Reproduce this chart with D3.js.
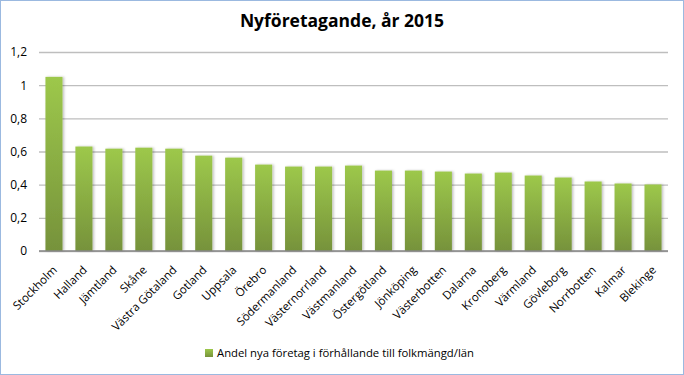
<!DOCTYPE html>
<html>
<head>
<meta charset="utf-8">
<script src="https://cdn.jsdelivr.net/npm/d3@7"></script>
<style>
  body { margin: 0; background: #fff; }
  text { font-family: "Open Sans", "Noto Sans", sans-serif; }
</style>
</head>
<body>
<div id="chart"></div>
<script>
(() => {

    var regions = ["Stockholm", "Halland", "Jämtland", "Skåne", "Västra Götaland", "Gotland", "Uppsala",
        "Örebro", "Södermanland", "Västernorrland", "Västmanland", "Östergötland", "Jönköping",
        "Västerbotten", "Dalarna", "Kronoberg", "Värmland", "Gövleborg", "Norrbotten", "Kalmar", "Blekinge"];
    var values = [1.05, 0.63, 0.617, 0.623, 0.617, 0.575, 0.563, 0.521, 0.509, 0.509, 0.515,
        0.485, 0.485, 0.479, 0.467, 0.473, 0.455, 0.443, 0.419, 0.407, 0.401];
    var yTicks = [0, 0.2, 0.4, 0.6, 0.8, 1, 1.2];
    var seriesName = "Andel nya företag i förhållande till folkmängd/län";

    var W = 684, H = 375;
    var margin = { top: 52, right: 16, bottom: 124, left: 39 },
        width = W - margin.left - margin.right,
        height = H - margin.top - margin.bottom;

    var svg = d3.select("#chart").append("svg")
        .attr("width", W).attr("height", H);

    // chart border
    svg.append("rect")
        .attr("x", 0.5).attr("y", 0.5)
        .attr("width", W - 1).attr("height", H - 1)
        .attr("fill", "white")
        .attr("stroke", "#9bb9e0");

    var defs = svg.append("defs");
    var grad = defs.append("linearGradient")
        .attr("id", "barGrad")
        .attr("x1", 0).attr("y1", 0).attr("x2", 0).attr("y2", 1);
    grad.append("stop").attr("offset", "0%").attr("stop-color", "#9dc84b");
    grad.append("stop").attr("offset", "100%").attr("stop-color", "#76923b");

    var shadow = defs.append("filter").attr("id", "shadow")
        .attr("x", "-30%").attr("y", "-10%").attr("width", "160%").attr("height", "120%");
    shadow.append("feDropShadow")
        .attr("dx", 1.5).attr("dy", 0).attr("stdDeviation", 1.2)
        .attr("flood-color", "#000").attr("flood-opacity", 0.25);

    var g = svg.append("g")
        .attr("transform", "translate(" + margin.left + "," + margin.top + ")");

    var x = d3.scaleBand()
        .domain(regions)
        .range([0, width])
        .paddingInner(0.43)
        .paddingOuter(0.215);

    var y = d3.scaleLinear()
        .domain([0, 1.2])
        .range([height, 0]);

    // gridlines
    g.append("g")
        .call(d3.axisLeft(y).tickValues(yTicks).tickSize(-width).tickFormat(""))
        .call(a => a.select(".domain").remove())
        .call(a => a.selectAll("line").attr("stroke", "#bebebe").attr("stroke-width", 1.3));

    // y labels
    g.append("g")
        .call(d3.axisLeft(y).tickValues(yTicks).tickSize(0).tickPadding(12)
            .tickFormat(d => String(d).replace(".", ",")))
        .call(a => a.select(".domain").remove())
        .call(a => a.selectAll("text")
            .attr("fill", "#000")
            .style("font-size", "12px")
            .style("font-family", "'Open Sans', sans-serif"));

    // bars
    g.selectAll(".bar")
        .data(values)
        .enter()
        .append("rect")
        .attr("class", "bar")
        .attr("x", (d, i) => x(regions[i]))
        .attr("y", d => y(d))
        .attr("width", x.bandwidth())
        .attr("height", d => height - y(d))
        .attr("fill", "url(#barGrad)")
        .attr("filter", "url(#shadow)");

    // x axis line
    g.append("line")
        .attr("x1", 0).attr("x2", width)
        .attr("y1", height).attr("y2", height)
        .attr("stroke", "#868686").attr("stroke-width", 1.5);

    // x labels
    g.selectAll(".xlab")
        .data(regions)
        .enter()
        .append("text")
        .attr("class", "xlab")
        .attr("transform", d => "translate(" + (x(d) + x.bandwidth() / 2 - 2) + "," + (height + 14) + ") rotate(-45)")
        .attr("text-anchor", "end")
        .attr("dy", "0.7em")
        .style("font-size", "11.5px")
        .attr("fill", "#000")
        .text(d => d);

    // title
    svg.append("text")
        .attr("x", W / 2)
        .attr("y", 27)
        .attr("text-anchor", "middle")
        .style("font-size", "17.5px")
        .style("font-weight", "bold")
        .attr("fill", "#000")
        .text("Nyföretagande, år 2015");

    // legend
    var legend = svg.append("g").attr("transform", "translate(205,349)");
    legend.append("rect")
        .attr("width", 8).attr("height", 8)
        .attr("fill", "url(#barGrad)");
    legend.append("text")
        .attr("x", 12).attr("y", 8)
        .style("font-size", "11.3px")
        .attr("fill", "#000")
        .text(seriesName);

})();
</script>
</body>
</html>
